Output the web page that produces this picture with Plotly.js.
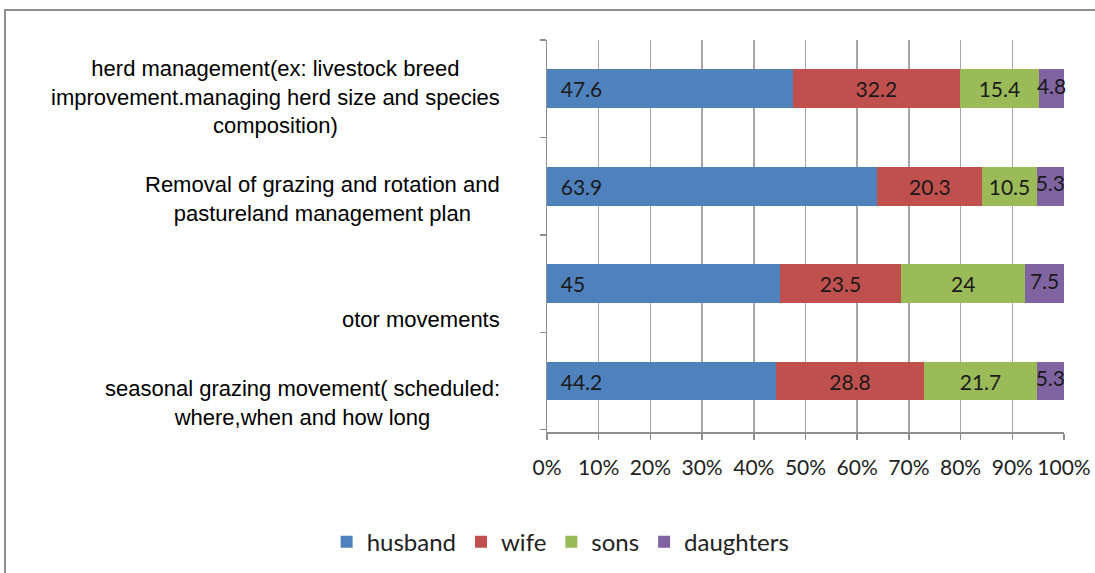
<!DOCTYPE html>
<html>
<head>
<meta charset="utf-8">
<script src="https://cdn.plot.ly/plotly-3.0.1.min.js"></script>
<style>
  html, body { margin: 0; padding: 0; background: #fff; }
  #wrap { position: relative; width: 1095px; height: 573px; overflow: hidden; }
  #chart { position: absolute; left: 0; top: 0; width: 1095px; height: 573px; }
  #frame { position: absolute; left: 4px; top: 9px; width: 1200px; height: 700px;
           border-left: 2px solid #8f8f8f; border-top: 2px solid #8f8f8f; pointer-events: none; }
</style>
</head>
<body>
<div id="wrap">
  <div id="chart"></div>
  <div id="frame"></div>
</div>
<script>
// Categories, bottom to top
const categories = [
  "seasonal grazing movement( scheduled:<br>where,when and how long",
  "otor movements",
  "Removal of grazing and rotation and<br>pastureland management plan",
  "herd management(ex: livestock breed<br>improvement.managing herd size and species<br>composition)"
];
const husband   = [44.2, 45,   63.9, 47.6];
const wife      = [28.8, 23.5, 20.3, 32.2];
const sons      = [21.7, 24,   10.5, 15.4];
const daughters = [5.3,  7.5,  5.3,  4.8];
const seriesNames = ["husband", "wife", "sons", "daughters"];
const tickVals = [0, 10, 20, 30, 40, 50, 60, 70, 80, 90, 100];
const tickText = ["0%", "10%", "20%", "30%", "40%", "50%", "60%", "70%", "80%", "90%", "100%"];

const colors = ["#4F81BD", "#C0504D", "#9BBB59", "#8064A2"];
const anchors = ["start", "middle", "middle", "middle"];
const pads = ["\u00a0\u00a0", "", "", ""];
const seriesData = [husband, wife, sons, daughters];
const catIds = categories.map((c, i) => "c" + i);
const labelFont = { family: "Lato, 'Open Sans', sans-serif", size: 21, color: "#1a1a1a" };

const traces = seriesData.map((vals, i) => ({
  type: "bar",
  orientation: "h",
  name: seriesNames[i],
  y: catIds,
  x: vals,
  text: i < 3 ? vals.map(v => pads[i] + String(v)) : undefined,
  textposition: i < 3 ? "inside" : "none",
  insidetextanchor: anchors[i],
  textangle: 0,
  constraintext: "none",
  cliponaxis: false,
  textfont: labelFont,
  marker: { color: colors[i], line: { width: 0 } },
  hoverinfo: "skip"
}));

// labels for the thin last segment, placed at the segment centre through the axis scale
traces.push({
  type: "scatter",
  mode: "text",
  showlegend: false,
  x: daughters.map((v, k) => husband[k] + wife[k] + sons[k] + v / 2),
  y: catIds,
  text: daughters.map(v => String(v)),
  textposition: "middle center",
  textfont: labelFont,
  cliponaxis: false,
  hoverinfo: "skip"
});

const labelShift = [-22, -36, -13, -8];
const annotations = categories.map((c, i) => ({
  xref: "paper", yref: "y",
  x: 0, y: catIds[i],
  xanchor: "right", yanchor: "middle",
  xshift: -45, yshift: labelShift[i],
  align: "center",
  text: c,
  showarrow: false,
  font: { family: "'Liberation Sans', Arial, sans-serif", size: 22, color: "#000" }
}));

const layout = {
  width: 1095, height: 573,
  margin: { l: 547, r: 31, t: 40, b: 141, pad: 0 },
  paper_bgcolor: "#fff", plot_bgcolor: "#fff",
  barmode: "stack",
  bargap: 0.6,
  showlegend: true,
  legend: {
    orientation: "h", traceorder: "normal",
    xref: "container", yref: "container",
    x: 0.512, xanchor: "center",
    y: 0.054, yanchor: "middle",
    font: { family: "Lato, 'Open Sans', sans-serif", size: 24, color: "#222" },
    itemwidth: 30
  },
  xaxis: {
    range: [0, 100],
    automargin: false,
    tickmode: "array", tickvals: tickVals, ticktext: tickText,
    showgrid: true, gridcolor: "#a6a6a6", gridwidth: 1.5,
    showline: true, linecolor: "#8f8f8f", linewidth: 1.5,
    ticks: "outside", ticklen: 6, tickcolor: "#8f8f8f", tickwidth: 1.5,
    ticklabelstandoff: 10,
    tickfont: { family: "Lato, 'Open Sans', sans-serif", size: 21, color: "#222" },
    zeroline: false, fixedrange: true
  },
  yaxis: {
    type: "category",
    automargin: false,
    categoryorder: "array", categoryarray: catIds,
    showticklabels: false,
    tickson: "boundaries",
    ticks: "outside", ticklen: 6, tickcolor: "#8f8f8f", tickwidth: 1.5,
    showline: true, linecolor: "#8f8f8f", linewidth: 1.5,
    showgrid: false, zeroline: false, fixedrange: true
  },
  annotations: annotations
};

Plotly.newPlot("chart", traces, layout, { displayModeBar: false, staticPlot: true });
</script>
</body>
</html>
